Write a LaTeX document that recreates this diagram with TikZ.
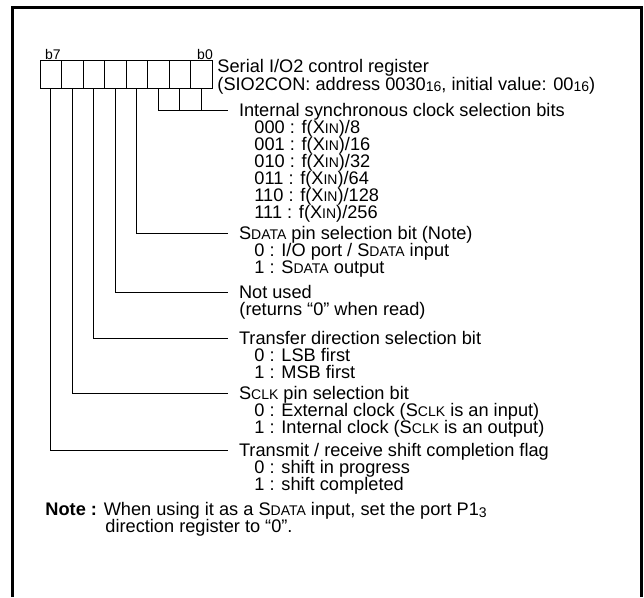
\documentclass[tikz,border=0pt]{standalone}
\usepackage{fontspec}
\setmainfont{Liberation Sans}
\usetikzlibrary{positioning}

\newcommand\smc[1]{{\fontsize{14}{14}\selectfont #1}}
\newcommand\subsc[1]{\raisebox{-1.5pt}{\smc{#1}}}

\begin{document}
\begin{tikzpicture}[x=1pt, y=-1pt, line width=0.9pt,
    font=\fontsize{18.2}{17}\selectfont,
    bit/.style = {draw, minimum width=21.5pt, minimum height=28pt, inner sep=0pt},
    head/.style = {anchor=west, inner ysep=0pt, inner xsep=5.5pt, outer xsep=5.5pt, text height=13pt, text depth=0pt},
    opt/.style = {anchor=west, inner sep=0pt, text height=13pt, text depth=0pt},
    tag/.style = {inner sep=0pt, font=\fontsize{14}{14}\selectfont}]
    \useasboundingbox (0,0) rectangle (644,597);
    % frame
    \draw[line width=3pt] (12,597) -- (12,7) -- (641,7) -- (641,597);

    % register cells, b7 on the left
    \foreach \b in {7,...,0}
        \node[bit] (c\b) at ({50.75+21.5*(7-\b)},74.7) {};
    \node[tag] (b7) at (53,54) {b7};
    \node[tag] (b0) at (205,54) {b0};
    \node[opt] (reg) at (217,66) {Serial I/O2 control register};
    \node[opt] (adr) at (217,83.5) {(SIO2CON: address 0030\subsc{16}, initial value: 00\subsc{16})};

    % labels
    \node[head] (clk) at (228,110) {Internal synchronous clock selection bits};
    \foreach \t [count=\i] in {000 : f(X\smc{IN})/8, 001 : f(X\smc{IN})/16, 010 : f(X\smc{IN})/32,
        011 : f(X\smc{IN})/64, 110 : f(X\smc{IN})/128, 111 : f(X\smc{IN})/256}
        \node[opt] (clk\i) at (254,{110+17*\i}) {\t};

    \node[head] (sda) at (228,233) {S\smc{DATA} pin selection bit (Note)};
    \node[opt] (sda1) at (254,250) {0 : I/O port / S\smc{DATA} input};
    \node[opt] (sda2) at (254,267) {1 : S\smc{DATA} output};

    \node[head] (nu) at (228,292) {Not used};
    \node[opt] (nu1) at (239,309) {(returns “0” when read)};

    \node[head] (dir) at (228,338) {Transfer direction selection bit};
    \node[opt] (dir1) at (254,355) {0 : LSB first};
    \node[opt] (dir2) at (254,372) {1 : MSB first};

    \node[head] (sck) at (228,393) {S\smc{CLK} pin selection bit};
    \node[opt] (sck1) at (254,410) {0 : External clock (S\smc{CLK} is an input)};
    \node[opt] (sck2) at (254,427) {1 : Internal clock (S\smc{CLK} is an output)};

    \node[head] (fl) at (228,450) {Transmit / receive shift completion flag};
    \node[opt] (fl1) at (254,467) {0 : shift in progress};
    \node[opt] (fl2) at (254,484) {1 : shift completed};

    \node[opt] (note) at (45,509) {\textbf{Note :} When using it as a S\smc{DATA} input, set the port P1\subsc{3}};
    \node[opt] (note2) at (105,526) {direction register to “0”.};

    % leaders
    \draw (c2.south) |- (clk.west);
    \draw (c1.south) -- (c1.south |- clk.west);
    \draw (c0.south) -- (c0.south |- clk.west);
    \draw (c3.south) |- (sda.west);
    \draw (c4.south) |- (nu.west);
    \draw (c5.south) |- (dir.west);
    \draw (c6.south) |- (sck.west);
    \draw (c7.south) |- (fl.west);
\end{tikzpicture}
\end{document}
